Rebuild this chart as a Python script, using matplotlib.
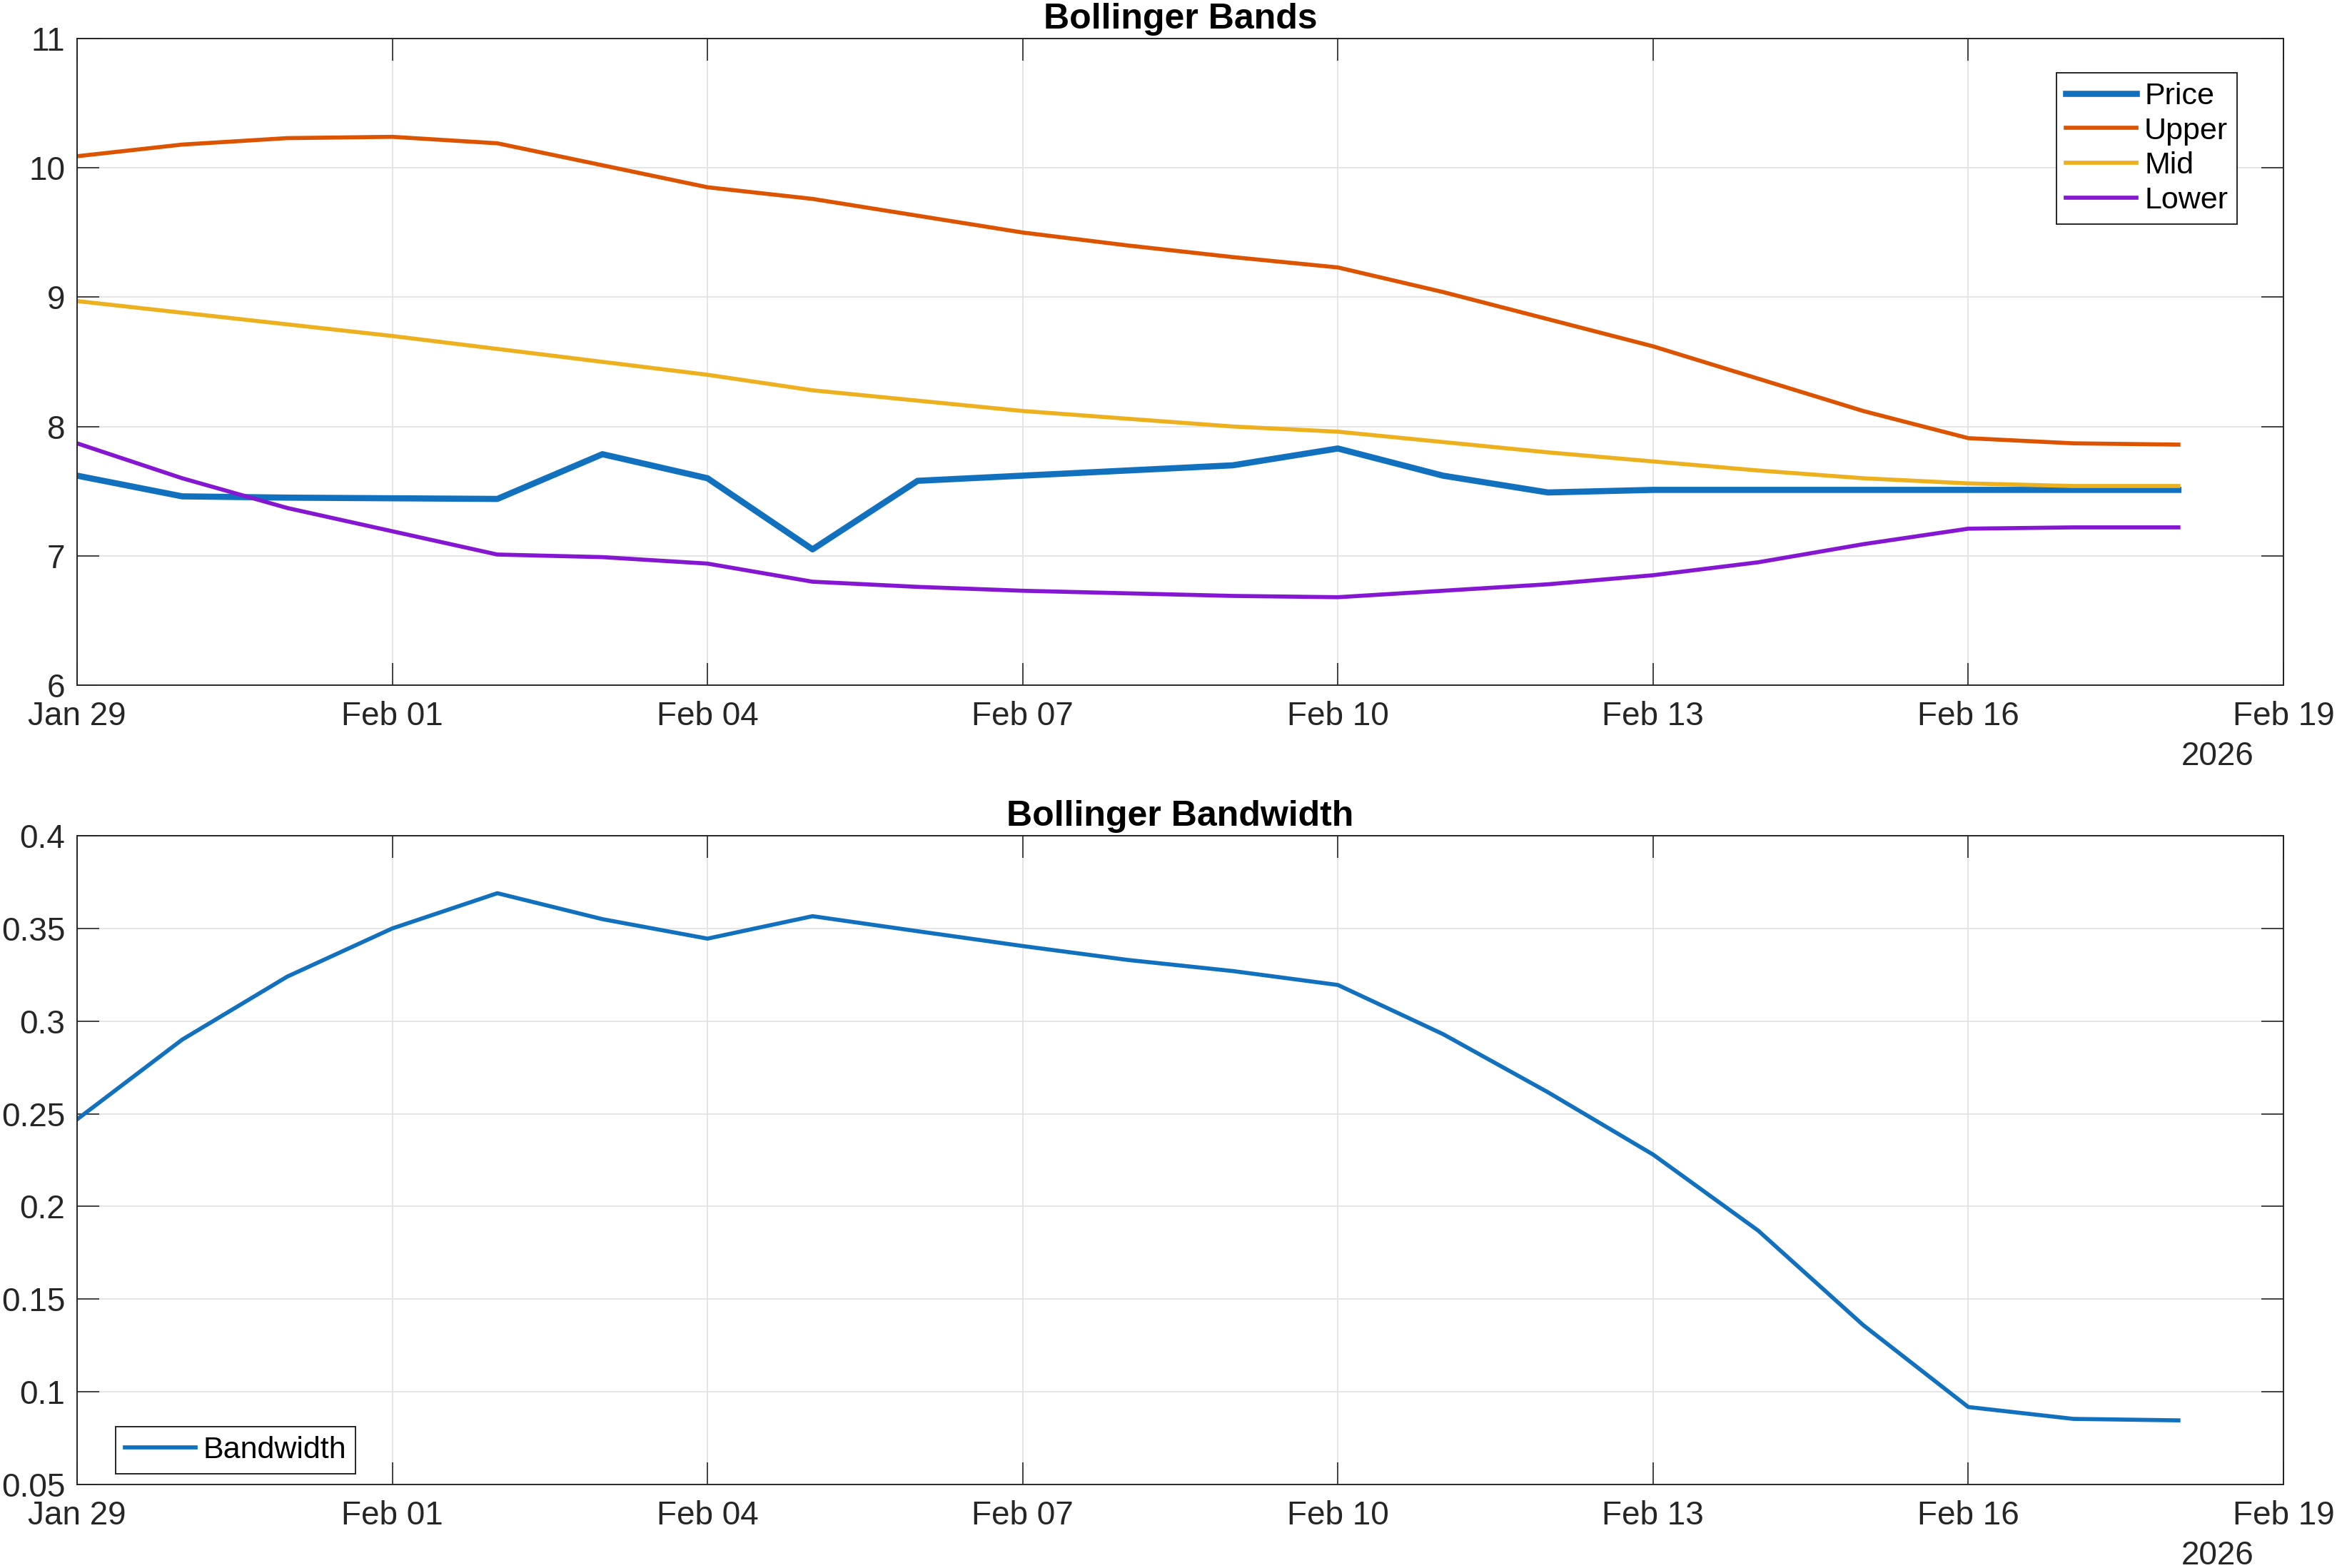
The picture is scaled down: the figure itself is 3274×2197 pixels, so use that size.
#%% import packages and data
import numpy as np
import pandas as pd
import matplotlib.pyplot as plt
import matplotlib.dates as mdates
from matplotlib.ticker import FuncFormatter

# daily dates, Jan 29 -> Feb 18 2026
dates = pd.date_range('2026-01-29', '2026-02-18', freq='D')

price = [7.62, 7.46, 7.45, 7.445, 7.44, 7.786, 7.60, 7.05, 7.58, 7.62, 7.66,
         7.70, 7.83, 7.62, 7.49, 7.51, 7.51, 7.51, 7.51, 7.51, 7.51]
upper = [10.09, 10.18, 10.23, 10.24, 10.19, 10.02, 9.85, 9.76, 9.63, 9.50, 9.40,
         9.31, 9.23, 9.04, 8.83, 8.62, 8.37, 8.12, 7.91, 7.87, 7.86]
mid = [8.97, 8.88, 8.79, 8.70, 8.60, 8.50, 8.40, 8.28, 8.20, 8.12, 8.06,
       8.00, 7.96, 7.88, 7.80, 7.73, 7.66, 7.60, 7.56, 7.54, 7.54]
lower = [7.87, 7.60, 7.37, 7.19, 7.01, 6.99, 6.94, 6.80, 6.76, 6.73, 6.71,
         6.69, 6.68, 6.73, 6.78, 6.85, 6.95, 7.09, 7.21, 7.22, 7.22]
bandwidth = [0.247, 0.290, 0.324, 0.350, 0.369, 0.355, 0.3445, 0.3566, 0.3485,
             0.3405, 0.333, 0.327, 0.3195, 0.293, 0.2616, 0.228, 0.187, 0.136,
             0.0918, 0.0854, 0.0846]

# colors (matlab default order)
c_blue = '#1171BE'
c_orange = '#DD5400'
c_yellow = '#EDB120'
c_purple = '#8516D1'
c_axis = '#262626'

fs = 16.5      # tick font size
fs_leg = 15.5  # legend font size

plt.rcParams['font.family'] = ['Liberation Sans', 'DejaVu Sans']
plt.rcParams['xtick.direction'] = 'in'
plt.rcParams['ytick.direction'] = 'in'

W, H = 3274, 2197
fig = plt.figure(figsize=(W / 200, H / 200), dpi=200)
ax1 = fig.add_axes([108 / W, 1 - 960 / H, 3091 / W, 906 / H])
ax2 = fig.add_axes([108 / W, 1 - 2080 / H, 3091 / W, 909 / H])


def style_axes(ax):
    ax.set_xlim(pd.Timestamp('2026-01-29'), pd.Timestamp('2026-02-19'))
    ax.xaxis.set_major_locator(mdates.DayLocator(bymonthday=[1, 4, 7, 10, 13, 16, 19, 29]))
    ax.xaxis.set_major_formatter(mdates.DateFormatter('%b %d'))
    ax.grid(True, color='#E2E2E2', linewidth=0.6)
    ax.set_axisbelow(True)
    for s in ax.spines.values():
        s.set_linewidth(0.7)
        s.set_color(c_axis)
    ax.tick_params(which='both', top=True, right=True, length=11, width=0.6,
                   color=c_axis, labelcolor=c_axis, labelsize=fs)
    ax.tick_params(axis='x', pad=8)
    ax.tick_params(axis='y', pad=6)
    ax.annotate('2026', xy=(1, 0), xycoords='axes fraction', xytext=(-15, -28),
                textcoords='offset points', ha='right', va='top',
                fontsize=fs, color=c_axis)


#%% Bollinger Bands
ax1.plot(dates, price, color=c_blue, linewidth=3.1, label='Price')
ax1.plot(dates, upper, color=c_orange, linewidth=2.05, label='Upper')
ax1.plot(dates, mid, color=c_yellow, linewidth=2.05, label='Mid')
ax1.plot(dates, lower, color=c_purple, linewidth=2.05, label='Lower')
style_axes(ax1)
ax1.set_ylim(6, 11)
ax1.set_yticks([6, 7, 8, 9, 10, 11])
ax1.set_title('Bollinger Bands', fontsize=18, fontweight='bold', pad=5)
leg = ax1.legend(loc='upper right', bbox_to_anchor=(0.979, 0.947), borderaxespad=0,
                 fontsize=fs_leg, fancybox=False, framealpha=1, edgecolor=c_axis,
                 handlelength=2.3, handletextpad=0.25, borderpad=0.3,
                 labelspacing=0.2)
leg.get_frame().set_linewidth(0.7)

#%% Bollinger Bandwidth
ax2.plot(dates, bandwidth, color=c_blue, linewidth=2.05, label='Bandwidth')
style_axes(ax2)
ax2.set_ylim(0.05, 0.4)
ax2.set_yticks(np.arange(0.05, 0.401, 0.05))
ax2.yaxis.set_major_formatter(FuncFormatter(lambda v, p: '%g' % round(v, 2)))
ax2.set_title('Bollinger Bandwidth', fontsize=18, fontweight='bold', pad=5)
leg2 = ax2.legend(loc='lower left', bbox_to_anchor=(0.0175, 0.0165), borderaxespad=0,
                  fontsize=fs_leg, fancybox=False, framealpha=1, edgecolor=c_axis,
                  handlelength=2.3, handletextpad=0.25, borderpad=0.3)
leg2.get_frame().set_linewidth(0.7)

plt.savefig('out.png', dpi=200)
